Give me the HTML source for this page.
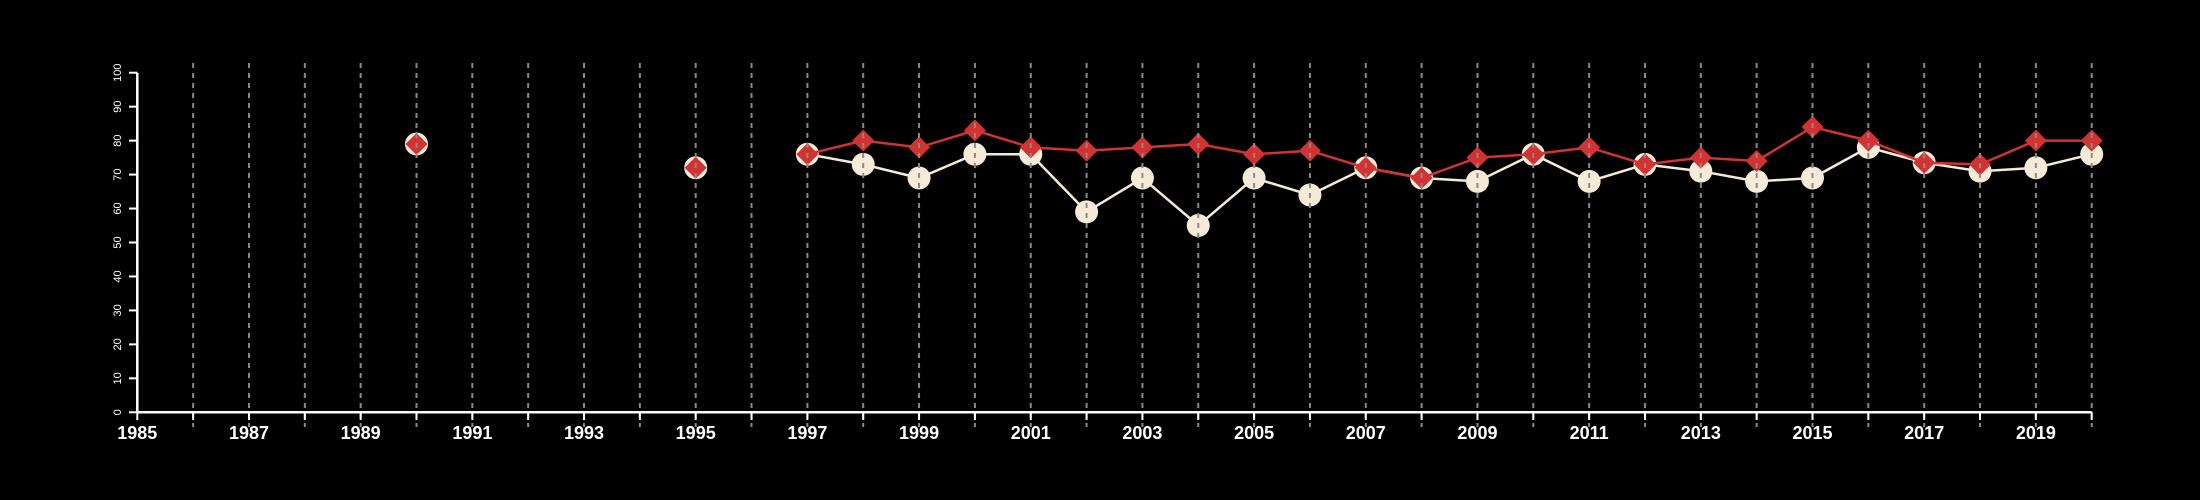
<!DOCTYPE html>
<html><head><meta charset="utf-8"><style>
html,body{margin:0;padding:0;background:#000;}
svg{display:block;}
</style></head><body>
<svg id="c" width="2200" height="500" xmlns="http://www.w3.org/2000/svg" font-family="Liberation Sans, Arial, sans-serif"></svg>
<script>
const s=document.getElementById('c');
const X=y=>137.3+(y-1985)*55.84, Y=v=>412.3-v*3.396;
let h='<rect width="2200" height="500" fill="#000"/>';
const red={1990:79,1995:72,1997:76,1998:80,1999:78,2000:83,2001:78,2002:77,2003:78,2004:79,2005:76,2006:77,2007:72,2008:69,2009:75,2010:76,2011:78,2012:73,2013:75,2014:74,2015:84,2016:80,2017:73.5,2018:73,2019:80,2020:80};
const wh={1990:79,1995:72,1997:76,1998:73,1999:69,2000:76,2001:76,2002:59,2003:69,2004:55,2005:69,2006:64,2007:72,2008:69,2009:68,2010:76,2011:68,2012:73,2013:71,2014:68,2015:69,2016:78,2017:73.5,2018:71,2019:72,2020:76};
const CW='#f6ead8', CR='#d13232';
function line(d,c){let p=[];for(let y=1997;y<=2020;y++)p.push(X(y).toFixed(1)+','+Y(d[y]).toFixed(1));return `<polyline points="${p.join(' ')}" fill="none" stroke="${c}" stroke-width="2.5"/>`;}
h+=line(wh,CW);
for(const y in wh)h+=`<circle cx="${X(+y)}" cy="${Y(wh[y])}" r="11.5" fill="${CW}"/>`;
h+=line(red,CR);
for(const y in red){const x=X(+y),yy=Y(red[y]);h+=`<polygon points="${x},${yy-11} ${x+11},${yy} ${x},${yy+11} ${x-11},${yy}" fill="${CR}"/>`;}
for(let y=1986;y<=2020;y++)h+=`<line x1="${X(y)}" x2="${X(y)}" y1="63" y2="427" stroke="#8a8a8a" stroke-width="2" stroke-dasharray="5,5"/>`;
h+=`<line x1="137.3" x2="${X(2020)}" y1="412.3" y2="412.3" stroke="#fff" stroke-width="2.5"/>`;
h+=`<line x1="137.3" x2="137.3" y1="72.7" y2="412.3" stroke="#fff" stroke-width="2.5"/>`;
for(let y=1985;y<=2020;y++)h+=`<line x1="${X(y)}" x2="${X(y)}" y1="412" y2="420" stroke="#fff" stroke-width="2"/>`;
for(let y=1985;y<=2019;y+=2)h+=`<text x="${X(y)}" y="439" fill="#fff" font-size="18" font-weight="bold" text-anchor="middle">${y}</text>`;
for(let v=0;v<=100;v+=10){const yy=Y(v);h+=`<line x1="129" x2="137.3" y1="${yy}" y2="${yy}" stroke="#fff" stroke-width="2"/>`;h+=`<text transform="translate(121,${yy}) rotate(-90)" fill="#fff" font-size="11" text-anchor="middle">${v}</text>`;}
s.innerHTML=h;
</script>
</body></html>
